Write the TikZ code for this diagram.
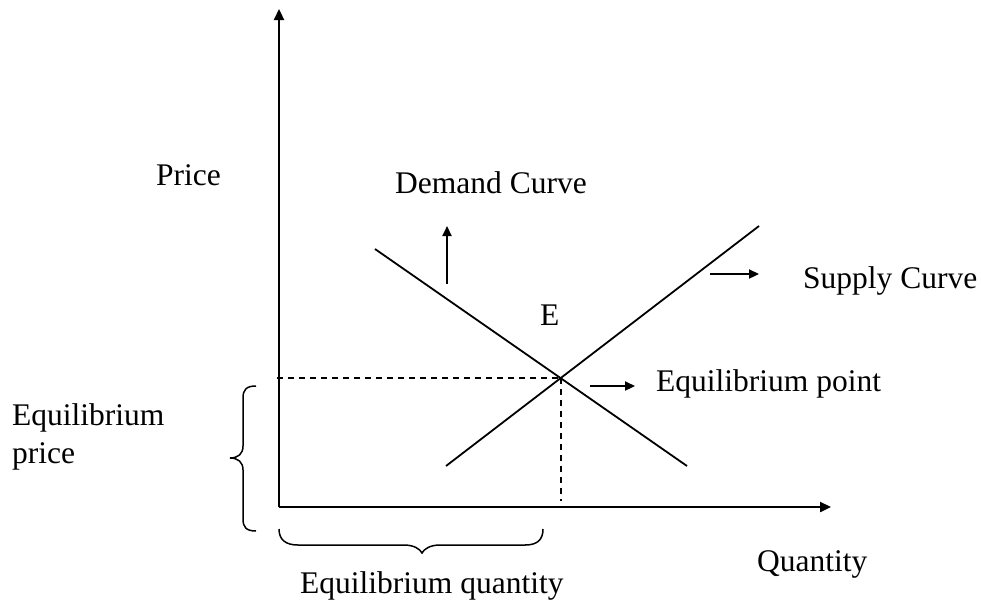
\documentclass[tikz,border=0pt]{standalone}
\usepackage{fontspec}
\setmainfont{Liberation Serif}
\usetikzlibrary{arrows.meta}
\begin{document}
\begin{tikzpicture}[x=1pt,y=-1pt,
  lbl/.style={anchor=base west,inner sep=0pt,font=\fontsize{31.5}{36}\selectfont},
  axis/.style={line width=2.3pt,-{Triangle[length=11pt,width=10pt]}},
  curve/.style={line width=1.8pt},
  pointer/.style={line width=2.2pt,-{Triangle[length=10pt,width=9pt]}},
  guide/.style={line width=1.5pt,dash pattern=on 6pt off 5pt},
  bracestyle/.style={line width=1.5pt}]
\useasboundingbox (0,0) rectangle (981,603);
% key points
\coordinate (O) at (279,507);
\coordinate (Ytop) at (279,9);
\coordinate (Xend) at (831,507);
\coordinate (Eq) at (561,378);
\coordinate (D1) at (375,249);
\coordinate (D2) at (687,466);
\coordinate (S1) at (446,466);
\coordinate (S2) at (759,226);
\coordinate (Py) at (277,378);
\coordinate (Qx) at (561,501);
% axes
\draw[axis] (O) -- (Ytop);
\draw[axis] (O) -- (Xend);
% curves
\draw[curve] (D1) -- (D2);
\draw[curve] (S1) -- (S2);
% guides
\draw[guide] (Py) -- (Eq);
\draw[guide] (Eq) -- (Qx);
% pointer arrows
\coordinate (dA1) at (447,284);
\coordinate (dA2) at (447,226);
\draw[pointer] (dA1) -- (dA2);
\coordinate (sA1) at (710,274);
\coordinate (sA2) at (759,274);
\draw[pointer] (sA1) -- (sA2);
\coordinate (eA1) at (590,386);
\coordinate (eA2) at (635,386);
\draw[pointer] (eA1) -- (eA2);
% braces
\draw[bracestyle] (256,386) .. controls (246,386) and (243,390) .. (243,398) -- (243,446)
  .. controls (243,454) and (238,458) .. (230,458)
  .. controls (238,458) and (243,462) .. (243,470) -- (243,519)
  .. controls (243,527) and (246,531) .. (256,531);
\draw[bracestyle] (279,529) .. controls (279,540) and (286,545) .. (298,545) -- (404,545)
  .. controls (414,545) and (420,549) .. (422,553)
  .. controls (424,549) and (430,545) .. (440,545) -- (525,545)
  .. controls (537,545) and (543,540) .. (543,529);
% labels
\node[lbl] (price) at (156,185) {Price};
\node[lbl] (demand) at (395,193) {Demand Curve};
\node[lbl] (supply) at (803,288) {Supply Curve};
\node[lbl] (E) at (540,325) {E};
\node[lbl] (eqpoint) at (656,391) {Equilibrium point};
\node[lbl] (eqprice1) at (12,425) {Equilibrium};
\node[lbl] (eqprice2) at (12,463) {price};
\node[lbl] (eqqty) at (300,593) {Equilibrium quantity};
\node[lbl] (qty) at (757,571) {Quantity};
\end{tikzpicture}
\end{document}
